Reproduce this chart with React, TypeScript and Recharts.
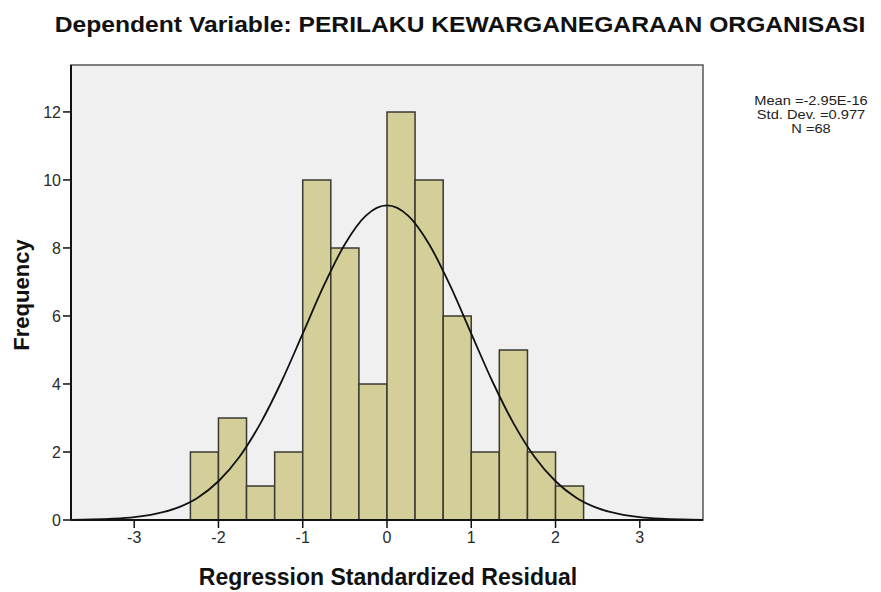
import { ComposedChart, Line, XAxis, YAxis, CartesianGrid, ReferenceArea } from 'recharts';

// histogram bins (edges) and frequencies
const binEdges = [-2.333, -2, -1.667, -1.333, -1, -0.667, -0.333, 0, 0.333, 0.667, 1, 1.333, 1.667, 2, 2.333];
const counts = [2, 3, 1, 2, 10, 8, 4, 12, 10, 6, 2, 5, 2, 1];

// normal curve
const curveX = [-3.75, -3.5, -3.25, -3, -2.75, -2.5, -2.25, -2, -1.75, -1.5, -1.25, -1, -0.75, -0.5, -0.25, 0,
  0.25, 0.5, 0.75, 1, 1.25, 1.5, 1.75, 2, 2.25, 2.5, 2.75, 3, 3.25, 3.5, 3.75];
const curveY = [0.006, 0.015, 0.037, 0.083, 0.18, 0.35, 0.65, 1.14, 1.86, 2.85, 4.08, 5.48, 6.89, 8.11, 8.95, 9.25,
  8.95, 8.11, 6.89, 5.48, 4.08, 2.85, 1.86, 1.14, 0.65, 0.35, 0.18, 0.083, 0.037, 0.015, 0.006];

const xTicks = [-3, -2, -1, 0, 1, 2, 3];
const yTicks = [0, 2, 4, 6, 8, 10, 12];
const xDomain = [-3.75, 3.75];
const yDomain = [0, 13.38];

const title = 'Dependent Variable: PERILAKU KEWARGANEGARAAN ORGANISASI';
const statLines = ['Mean =-2.95E-16', 'Std. Dev. =0.977', 'N =68'];

const FONT = '"Liberation Sans", Arial, sans-serif';

export default function App() {
  const curveData = curveX.map((x, i) => ({ x, y: curveY[i] }));

  return (
    <div style={{ position: 'absolute', left: 0, top: 0, width: 881, height: 592, background: '#fff', fontFamily: FONT }}>
      <div style={{ position: 'absolute', left: 460, top: 25, transform: 'translate(-50%, -50%) scaleX(1.12)', whiteSpace: 'nowrap', fontSize: 22, fontWeight: 'bold', color: '#111' }}>
        {title}
      </div>
      <ComposedChart
        width={881}
        height={592}
        data={curveData}
        margin={{ top: 65, right: 178, bottom: 42, left: 31 }}
      >
        <CartesianGrid fill="#f0f0f0" horizontal={false} vertical={false} />
        <XAxis
          dataKey="x"
          type="number"
          domain={xDomain}
          ticks={xTicks}
          allowDataOverflow
          height={30}
          tickSize={8}
          tickMargin={4}
          axisLine={{ stroke: '#111', strokeWidth: 2 }}
          tickLine={{ stroke: '#111', strokeWidth: 1.5 }}
          tick={{ fill: '#2a2a2a', fontSize: 16, fontFamily: FONT }}
        />
        <YAxis
          type="number"
          domain={yDomain}
          ticks={yTicks}
          allowDataOverflow
          width={40}
          tickSize={8}
          axisLine={{ stroke: '#111', strokeWidth: 2 }}
          tickLine={{ stroke: '#111', strokeWidth: 1.5 }}
          tick={{ fill: '#2a2a2a', fontSize: 16, fontFamily: FONT }}
        />
        <ReferenceArea x1={xDomain[0]} x2={xDomain[1]} y1={yDomain[0]} y2={yDomain[1]} fill="none" stroke="#555" strokeWidth={1.5} />
        {counts.map((c, i) => (
          <ReferenceArea
            key={i}
            x1={binEdges[i]}
            x2={binEdges[i + 1]}
            y1={0}
            y2={c}
            fill="#d4cf98"
            fillOpacity={1}
            stroke="#3a3a30"
            strokeWidth={1.5}
          />
        ))}
        <Line
          dataKey="y"
          type="monotone"
          stroke="#111"
          strokeWidth={1.8}
          dot={false}
          isAnimationActive={false}
        />
      </ComposedChart>
      <div style={{ position: 'absolute', left: 811, top: 94, transform: 'translateX(-50%) scaleX(1.22)', textAlign: 'center', whiteSpace: 'nowrap', fontSize: 12, lineHeight: '14px', color: '#222' }}>
        {statLines.map((s) => (
          <div key={s}>{s}</div>
        ))}
      </div>
      <div style={{ position: 'absolute', left: 22, top: 295, transform: 'translate(-50%, -50%) rotate(-90deg)', whiteSpace: 'nowrap', fontSize: 22, fontWeight: 'bold', color: '#111' }}>
        Frequency
      </div>
      <div style={{ position: 'absolute', left: 388, top: 577, transform: 'translate(-50%, -50%)', whiteSpace: 'nowrap', fontSize: 23, fontWeight: 'bold', color: '#111' }}>
        Regression Standardized Residual
      </div>
    </div>
  );
}
